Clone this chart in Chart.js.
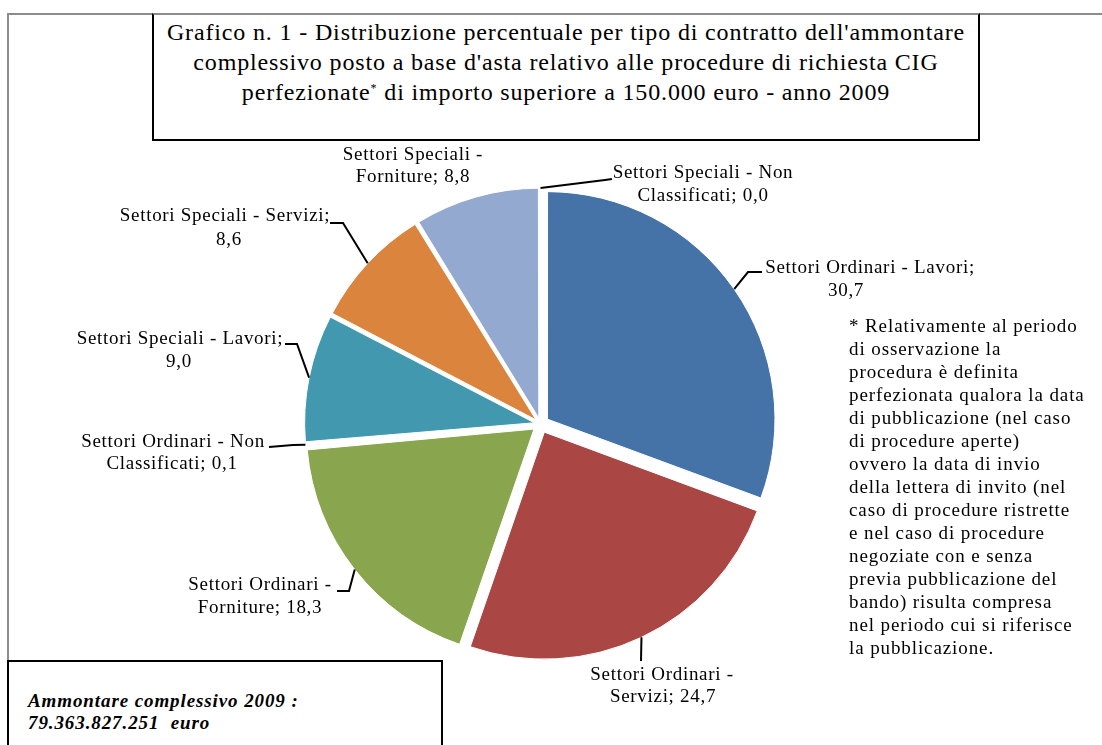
<!DOCTYPE html>
<html>
<head>
<meta charset="utf-8">
<script src="https://cdn.jsdelivr.net/npm/chart.js@4.4.1/dist/chart.umd.min.js"></script>
<style>
  html, body { margin: 0; padding: 0; background: #fff; overflow: hidden; }
  body { width: 1102px; height: 745px; position: relative; font-family: "Liberation Serif", serif; color: #000; }
  #chart { position: absolute; left: 0; top: 0; }
  .frame { position: absolute; left: 7px; top: 13px; width: 1200px; height: 800px;
           border-top: 2px solid #8c8c8c; border-left: 2px solid #8c8c8c; }
  .title-box { position: absolute; left: 152px; top: 13px; width: 828px; height: 128px; box-sizing: border-box;
               border: 2px solid #000; border-top-color: #8c8c8c; background: #fff;
               text-align: center; font-size: 24px; line-height: 30px; padding-top: 2px; letter-spacing: 0.85px; }
  .title-box sup { font-size: 12px; vertical-align: 8px; line-height: 0; }
  .note { position: absolute; left: 849px; top: 314px; font-size: 19px; line-height: 23px; white-space: pre; letter-spacing: 0.9px; }
  .total-box { position: absolute; left: 7px; top: 660px; width: 436px; height: 200px; box-sizing: border-box;
               border: 2px solid #000; background: #fff; padding: 28px 0 0 19px;
               font-size: 19px; line-height: 22px; font-weight: bold; font-style: italic; letter-spacing: 0.9px; }
</style>
</head>
<body>
<div class="frame"></div>
<canvas id="chart" width="1102" height="745"></canvas>
<div class="title-box">Grafico n. 1 - Distribuzione percentuale per tipo di contratto dell'ammontare<br>complessivo posto a base d'asta relativo alle procedure di richiesta CIG<br>perfezionate<sup>*</sup> di importo superiore a 150.000 euro - anno 2009</div>
<div class="note" id="note"></div>
<div class="total-box">Ammontare complessivo 2009 :<br>79.363.827.251&nbsp; euro</div>
<script>

/**
 * chart data
 */
var categories = [
  "Settori Ordinari - Lavori",
  "Settori Ordinari - Servizi",
  "Settori Ordinari - Forniture",
  "Settori Ordinari - Non Classificati",
  "Settori Speciali - Lavori",
  "Settori Speciali - Servizi",
  "Settori Speciali - Forniture",
  "Settori Speciali - Non Classificati"
];
var values = [30.7, 24.7, 18.3, 0.1, 9.0, 8.6, 8.8, 0.0];
var colors = ["#4572a7", "#aa4643", "#89a54e", "#80699b", "#4198af", "#db843d", "#93a9cf", "#a47d7c"];

var noteLines = [
  "* Relativamente al periodo",
  "di osservazione la",
  "procedura è definita",
  "perfezionata qualora la data",
  "di pubblicazione (nel caso",
  "di procedure aperte)",
  "ovvero la data di invio",
  "della lettera di invito (nel",
  "caso di procedure ristrette",
  "e nel caso di procedure",
  "negoziate con e senza",
  "previa pubblicazione del",
  "bando) risulta compresa",
  "nel periodo cui si riferisce",
  "la pubblicazione."
];

/**
 * label placement: words on first line, line centres, leader line points
 */
var labelLayout = [
  { words: 4, lines: [[870, 268], [846, 291]], leader: [[748, 272], [762, 272]] },
  { words: 3, lines: [[662, 675], [663, 697]], leader: [[641, 661]] },
  { words: 3, lines: [[260, 585], [260, 608]], leader: [[349, 591], [337, 591]] },
  { words: 4, lines: [[173, 442], [172, 464]], leader: [[293, 445], [269, 447]] },
  { words: 4, lines: [[180, 339], [179, 362]], leader: [[297, 344], [285, 344]] },
  { words: 4, lines: [[225, 216], [229, 240]], leader: [[343, 223], [330, 223]] },
  { words: 3, lines: [[413, 155], [413, 177]], leader: [] },
  { words: 4, lines: [[703, 173], [703, 196]], leader: [[605, 180], [612, 179]] }
];

document.getElementById("note").textContent = noteLines.join("\n");

/**
 * explode every slice by the same distance (chart.js offset is scaled by arc size)
 */
var explode = 9;
var total = values.reduce(function (a, b) { return a + b; }, 0);
var offsets = values.map(function (v) {
  var circ = v / total * Math.PI * 2;
  return 4 * explode / (2 - Math.sin(Math.min(Math.PI, circ)));
});

function fmt(v) {
  return v.toFixed(1).replace(".", ",");
}

var labelPlugin = {
  id: "pieLabels",
  afterDatasetsDraw: function (chart) {
    var ctx = chart.ctx;
    var arcs = chart.getDatasetMeta(0).data;

    ctx.save();
    ctx.font = '19px "Liberation Serif"';
    ctx.letterSpacing = "0.7px";
    ctx.fillStyle = "#000";
    ctx.strokeStyle = "#000";
    ctx.lineWidth = 2;
    ctx.textAlign = "center";
    ctx.textBaseline = "middle";

    for (var i = 0; i < arcs.length; i++) {
      var arc = arcs[i];
      var lay = labelLayout[i];
      var mid = (arc.startAngle + arc.endAngle) / 2;
      var off = (arc.options.offset || 0) / 4;
      var fix = 1 - Math.sin(Math.min(Math.PI, arc.circumference || 0));
      var dist = off + off * fix + arc.outerRadius;
      var sx = arc.x + Math.cos(mid) * dist;
      var sy = arc.y + Math.sin(mid) * dist;

      if (lay.leader.length) {
        ctx.beginPath();
        ctx.moveTo(sx, sy);
        for (var k = 0; k < lay.leader.length; k++) {
          ctx.lineTo(lay.leader[k][0], lay.leader[k][1]);
        }
        ctx.stroke();
      }

      var words = (categories[i] + "; " + fmt(values[i])).split(" ");
      var l1 = words.slice(0, lay.words).join(" ");
      var l2 = words.slice(lay.words).join(" ");
      ctx.fillText(l1, lay.lines[0][0], lay.lines[0][1]);
      ctx.fillText(l2, lay.lines[1][0], lay.lines[1][1]);
    }
    ctx.restore();
  }
};

new Chart(document.getElementById("chart"), {
  type: "pie",
  data: {
    labels: categories,
    datasets: [{
      data: values,
      backgroundColor: colors,
      borderColor: "#ffffff",
      borderWidth: 1,
      offset: offsets,
      radius: 227
    }]
  },
  options: {
    responsive: false,
    animation: false,
    devicePixelRatio: 1,
    layout: { padding: { left: 0, right: 21, top: 103, bottom: 0 } },
    plugins: {
      legend: { display: false },
      tooltip: { enabled: false }
    }
  },
  plugins: [labelPlugin]
});
</script>
</body>
</html>
